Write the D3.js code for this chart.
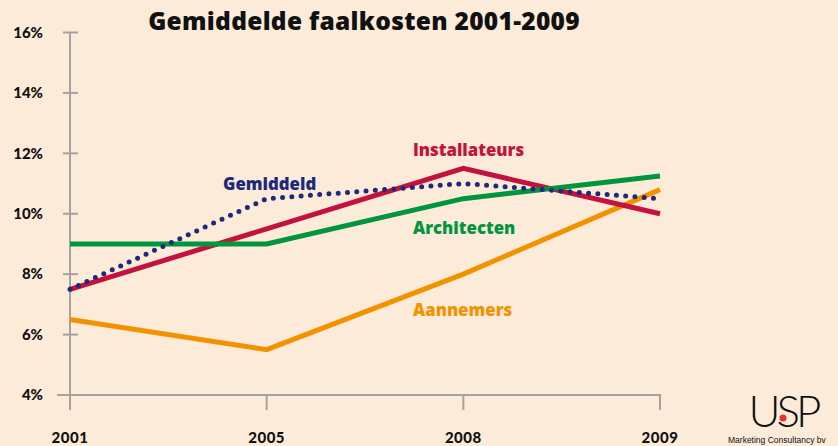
<!DOCTYPE html>
<html>
<head>
<meta charset="utf-8">
<script src="https://cdn.jsdelivr.net/npm/d3@7"></script>
<style>
  body { margin: 0; background: #fdebd9; }
  svg { display: block; font-family: "Open Sans", Lato, sans-serif; }
</style>
</head>
<body>
<svg id="chart" width="838" height="446"></svg>
<script>
(function() {

const years = ["2001", "2005", "2008", "2009"];
const yTicks = [4, 6, 8, 10, 12, 14, 16];

const aannemers = [6.5, 5.5, 8.0, 10.8];
const installateurs = [7.5, 9.5, 11.5, 10.0];
const architecten = [9.0, 9.0, 10.5, 11.25];
const gemiddeld = [7.5, 10.5, 11.0, 10.5];

const series = [
    { name: "Aannemers", values: aannemers, color: "#f39200", dotted: false, label: [413, 316] },
    { name: "Installateurs", values: installateurs, color: "#c4123e", dotted: false, label: [413, 156] },
    { name: "Architecten", values: architecten, color: "#00953f", dotted: false, label: [413, 234] },
    { name: "Gemiddeld", values: gemiddeld, color: "#1d2a7c", dotted: true, label: [223, 190] }
];

const svg = d3.select("#chart");
const axisColor = "#a3a3a3";

const x = d3.scalePoint()
    .domain(years)
    .range([70, 660]);

const y = d3.scaleLinear()
    .domain([4, 16])
    .range([395, 32.5]);

// background
svg.append("rect")
    .attr("width", 838).attr("height", 446)
    .attr("fill", "#fdebd9");

// title
svg.append("text")
    .attr("x", 364)
    .attr("y", 30)
    .attr("text-anchor", "middle")
    .attr("font-size", "24.5px")
    .attr("font-weight", "800")
    .attr("letter-spacing", "0.3")
    .attr("fill", "#111")
    .text("Gemiddelde faalkosten 2001-2009");

// Y axis
const yAxisG = svg.append("g")
    .attr("transform", `translate(${x("2001")},0)`)
    .call(d3.axisLeft(y).tickValues(yTicks).tickSize(0).tickFormat(d => d + "%"));
yAxisG.select(".domain").remove();
yAxisG.selectAll("text")
    .attr("x", -27)
    .attr("font-size", "15px")
    .attr("font-weight", "900")
    .attr("font-family", "Lato, sans-serif")
    .attr("fill", "#111");

svg.append("line")
    .attr("x1", x("2001")).attr("x2", x("2001"))
    .attr("y1", y(16)).attr("y2", 410)
    .attr("stroke", axisColor).attr("stroke-width", 2);

svg.selectAll(".ytick")
    .data(yTicks.filter(d => d > 4))
    .enter()
    .append("line")
    .attr("class", "ytick")
    .attr("x1", x("2001") - 7).attr("x2", x("2001") + 8)
    .attr("y1", d => y(d)).attr("y2", d => y(d))
    .attr("stroke", axisColor).attr("stroke-width", 2);

// X axis
svg.append("line")
    .attr("x1", 57).attr("x2", x("2009") + 1)
    .attr("y1", y(4)).attr("y2", y(4))
    .attr("stroke", axisColor).attr("stroke-width", 2);

svg.selectAll(".xtick")
    .data(years.slice(1))
    .enter()
    .append("line")
    .attr("class", "xtick")
    .attr("x1", d => x(d)).attr("x2", d => x(d))
    .attr("y1", y(4)).attr("y2", 410)
    .attr("stroke", axisColor).attr("stroke-width", 2);

svg.selectAll(".xlabel")
    .data(years)
    .enter()
    .append("text")
    .attr("class", "xlabel")
    .attr("x", d => x(d))
    .attr("y", 443)
    .attr("text-anchor", "middle")
    .attr("font-size", "15px")
    .attr("font-weight", "900")
    .attr("font-family", "Lato, sans-serif")
    .attr("letter-spacing", "0.5")
    .attr("fill", "#111")
    .text(d => d);

// lines
const line = d3.line()
    .x((d, i) => x(years[i]))
    .y(d => y(d));

series.forEach(s => {
    const p = svg.append("path")
        .attr("d", line(s.values))
        .attr("fill", "none")
        .attr("stroke", s.color)
        .attr("stroke-width", 5);
    if (s.dotted) {
        p.attr("stroke-dasharray", "0,9.3")
            .attr("stroke-linecap", "round");
    }
    svg.append("text")
        .attr("x", s.label[0])
        .attr("y", s.label[1])
        .attr("font-size", "16.8px")
        .attr("font-weight", "800")
        .attr("fill", s.color)
        .text(s.name);
});

// logo
const logo = svg.append("g");
logo.append("text")
    .attr("x", 783)
    .attr("y", 427)
    .attr("text-anchor", "middle")
    .attr("font-size", "44px")
    .attr("font-weight", "300")
    .attr("letter-spacing", "-4")
    .attr("font-family", "Lato, sans-serif")
    .attr("fill", "#111")
    .text("USP");
logo.append("circle")
    .attr("cx", 783).attr("cy", 418).attr("r", 3.5)
    .attr("fill", "#e63329");
logo.append("text")
    .attr("x", 728)
    .attr("y", 443)
    .attr("font-size", "8.5px")
    .attr("font-family", "Liberation Sans, Arial, sans-serif")
    .attr("fill", "#111")
    .text("Marketing Consultancy bv");

})();
</script>
</body>
</html>
